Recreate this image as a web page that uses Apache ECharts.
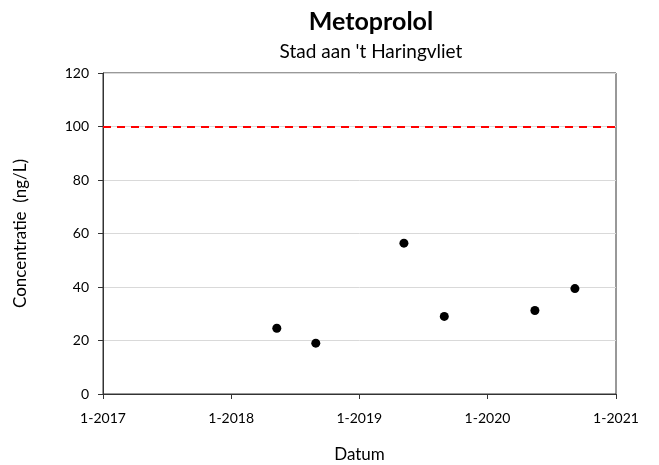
<!DOCTYPE html>
<html lang="nl">
  <head>
    <meta charset="UTF-8" />
    <title>Metoprolol</title>
    <script src="https://cdn.jsdelivr.net/npm/echarts@6/dist/echarts.min.js"></script>
    <style>
      html,
      body {
        margin: 0;
        padding: 0;
        background: #fff;
      }
      #chart {
        width: 659px;
        height: 465px;
      }
    </style>
  </head>
  <body>
    <div id="chart"></div>
    <script>
      // meetdata
      const dates = ["2018-05-11", "2018-08-30", "2019-05-08", "2019-08-31", "2020-05-15", "2020-09-06"];
      const values = [24.6, 19.0, 56.4, 29.0, 31.2, 39.4];
      const norm = 100;
      const xRange = ["2017-01-01", "2021-01-01"];
      const yRange = [0, 120, 20];

      const font = "Lato, 'Noto Sans', sans-serif";
      const chart = echarts.init(document.getElementById("chart"));

      const option = {
        animation: false,
        textStyle: { fontFamily: font },
        title: [
          {
            text: "Metoprolol",
            left: 366,
            top: 4,
            textAlign: "center",
            textStyle: { fontSize: 25, fontWeight: "bold", color: "#000", fontFamily: font },
          },
          {
            text: "Stad aan 't Haringvliet",
            left: 366,
            top: 37,
            textAlign: "center",
            textStyle: { fontSize: 19, fontWeight: "normal", color: "#000", fontFamily: font },
          },
        ],
        grid: {
          left: 103,
          right: 43,
          top: 73,
          bottom: 71,
          outerBoundsMode: "none",
          containLabel: false,
          show: true,
          borderColor: "#333",
          borderWidth: 1,
        },
        xAxis: {
          type: "time",
          min: xRange[0],
          max: xRange[1],
          minInterval: 365 * 86400000,
          maxInterval: 366 * 86400000,
          name: "Datum",
          nameLocation: "middle",
          nameGap: 52,
          nameTextStyle: { fontSize: 17, color: "#000" },
          axisLine: { lineStyle: { color: "#333" } },
          axisTick: { show: true, length: 5, lineStyle: { color: "#333" } },
          splitLine: { show: false },
          axisLabel: {
            fontSize: 14,
            color: "#000",
            margin: 17,
            showMinLabel: true,
            showMaxLabel: true,
            formatter: function (v) {
              const d = new Date(v);
              return d.getMonth() + 1 + "-" + d.getFullYear();
            },
          },
        },
        yAxis: {
          type: "value",
          min: yRange[0],
          max: yRange[1],
          interval: yRange[2],
          name: "Concentratie  (ng/L)",
          nameLocation: "middle",
          nameGap: 74,
          nameTextStyle: { fontSize: 17, color: "#000" },
          axisLine: { show: true, lineStyle: { color: "#333" } },
          axisTick: { show: true, inside: false, length: 5, lineStyle: { color: "#333" } },
          splitLine: { show: true, lineStyle: { color: "#d9d9d9" } },
          axisLabel: { fontSize: 14, color: "#000", margin: 14 },
        },
        series: [
          {
            type: "scatter",
            symbolSize: 9,
            itemStyle: { color: "#000", opacity: 1 },
            data: dates.map((d, i) => [d, values[i]]),
            markLine: {
              silent: true,
              symbol: "none",
              label: { show: false },
              lineStyle: { color: "#ff0000", width: 2, type: [8, 6] },
              data: [{ yAxis: norm }],
            },
          },
        ],
      };

      chart.setOption(option);
    </script>
  </body>
</html>
